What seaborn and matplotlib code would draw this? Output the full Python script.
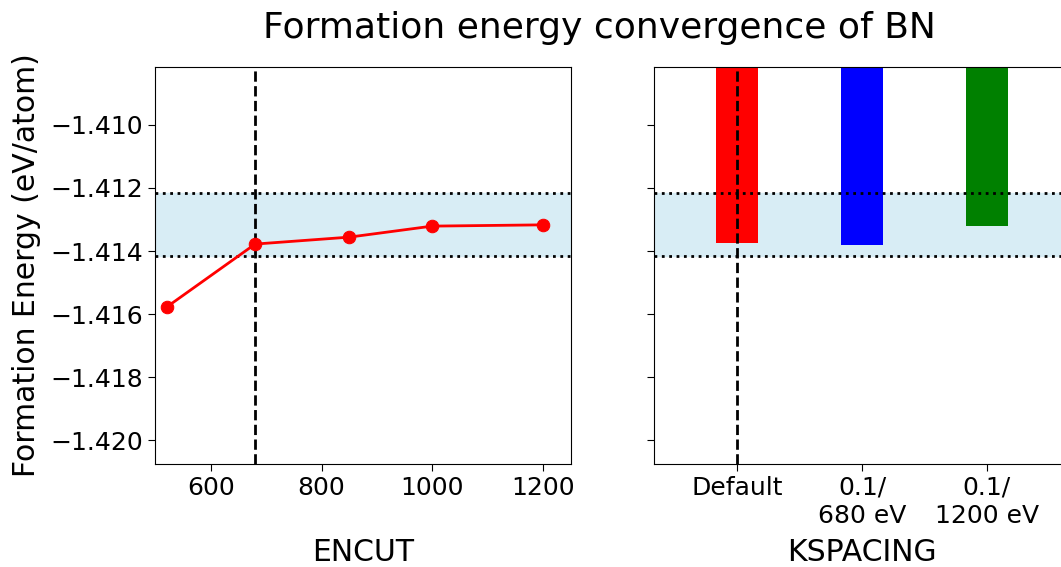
import matplotlib
matplotlib.use("Agg")
import matplotlib.pyplot as plt
import pandas as pd
import seaborn as sns

# ENCUT convergence (eV)
encut = [520, 680, 850, 1000, 1200]
encut_energy = [-1.41578, -1.41378, -1.41356, -1.41321, -1.41317]

# KSPACING convergence
kspacing_labels = ["Default", "0.1/\n680 eV", "0.1/\n1200 eV"]
kspacing_energy = [-1.41375, -1.41381, -1.41321]
bar_colors = ["red", "blue", "green"]

ref_energy = -1.41317
tolerance = 0.001
chosen_encut = 680

plt.rcParams["font.family"] = ["DejaVu Sans"]

fig = plt.figure(figsize=(10.61, 5.67), dpi=100)
ax1 = fig.add_axes([155 / 1061, 103 / 567, 416 / 1061, 397 / 567])
ax2 = fig.add_axes([654 / 1061, 103 / 567, 416 / 1061, 397 / 567], sharey=ax1)

band_color = "#d8edf5"

# left: ENCUT
df_encut = pd.DataFrame({"encut": encut, "energy": encut_energy})
ax1.axhspan(ref_energy - tolerance, ref_energy + tolerance, color=band_color, zorder=0)
ax1.axhline(ref_energy + tolerance, color="black", ls=":", lw=2, zorder=3)
ax1.axhline(ref_energy - tolerance, color="black", ls=":", lw=2, zorder=3)
ax1.axvline(chosen_encut, color="black", ls="--", lw=2, zorder=3)
sns.lineplot(data=df_encut, x="encut", y="energy", ax=ax1, color="red",
             marker="o", markersize=9, markeredgecolor="red", lw=2, zorder=4)
ax1.set_xlim(499, 1251)
ax1.set_ylim(-1.42076, -1.40816)
ax1.set_xticks([600, 800, 1000, 1200])
ax1.set_yticks([-1.410, -1.412, -1.414, -1.416, -1.418, -1.420])
ax1.set_xlabel("ENCUT", fontsize=21.5)
ax1.set_ylabel("Formation Energy (eV/atom)", fontsize=21.5)
ax1.xaxis.set_label_coords(0.5, -0.187)
ax1.yaxis.set_label_coords(-0.275, 0.5)

# right: KSPACING
df_k = pd.DataFrame({"setting": kspacing_labels, "energy": kspacing_energy})
ax2.axhspan(ref_energy - tolerance, ref_energy + tolerance, color=band_color, zorder=0)
sns.barplot(data=df_k, x="setting", y="energy", hue="setting", palette=bar_colors,
            width=0.33, ax=ax2, legend=False, zorder=2, saturation=1)
ax2.axhline(ref_energy + tolerance, color="black", ls=":", lw=2, zorder=3)
ax2.axhline(ref_energy - tolerance, color="black", ls=":", lw=2, zorder=3)
ax2.axvline(0, color="black", ls="--", lw=2, zorder=3)
ax2.set_xlim(-0.665, 2.665)
ax2.set_ylim(-1.42076, -1.40816)
ax2.set_xlabel("KSPACING", fontsize=21.5)
ax2.set_ylabel("")
ax2.xaxis.set_label_coords(0.5, -0.187)
ax2.tick_params(labelleft=False)

for ax in (ax1, ax2):
    ax.tick_params(labelsize=18, length=5)

fig.suptitle("Formation energy convergence of BN", fontsize=26, x=599 / 1061, y=0.98)

fig.savefig("out.png", dpi=100)
